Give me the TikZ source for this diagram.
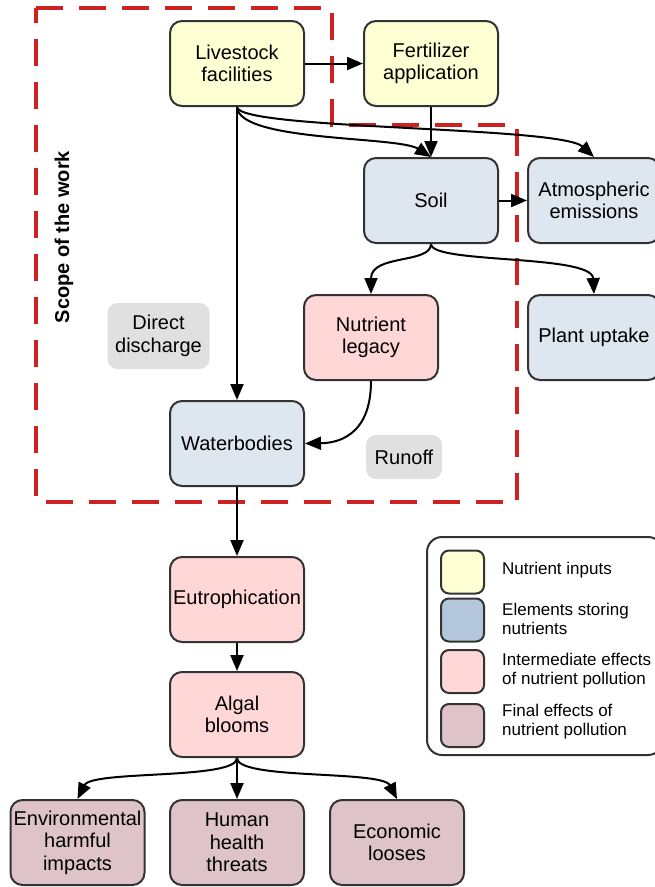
\documentclass[tikz,border=0pt]{standalone}
\usepackage{fontspec}
\setmainfont{Liberation Sans}
\usetikzlibrary{arrows.meta}

\definecolor{inputfill}{HTML}{FFFFD4}
\definecolor{storefill}{HTML}{DEE6F0}
\definecolor{storekey}{HTML}{B3C6DB}
\definecolor{midfill}{HTML}{FFD7D7}
\definecolor{finalfill}{HTML}{DFC3CB}
\definecolor{labelfill}{HTML}{E0E0E0}
\definecolor{scopered}{HTML}{CC2222}
\definecolor{edgegray}{HTML}{333333}

\begin{document}
\begin{tikzpicture}[x=1pt,y=-1pt,
  box/.style={draw=edgegray, line width=2pt, rounded corners=12pt,
    minimum width=134pt, minimum height=85pt, align=center, inner sep=1pt,
    font=\fontsize{20}{22.5}\selectfont},
  inputbox/.style={box, fill=inputfill},
  storebox/.style={box, fill=storefill},
  midbox/.style={box, fill=midfill},
  finalbox/.style={box, fill=finalfill},
  tag/.style={fill=labelfill, rounded corners=10pt, align=center, inner sep=1pt,
    font=\fontsize{20}{22.5}\selectfont},
  keybox/.style={draw=edgegray, line width=2pt, rounded corners=8pt,
    minimum width=43pt, minimum height=43pt, inner sep=0pt},
  keytext/.style={anchor=west, align=left, inner sep=0pt,
    font=\fontsize{17}{19}\selectfont},
  arr/.style={line width=2pt, -{Triangle[length=16pt,width=13pt]}},
  scope/.style={draw=scopered, line width=4pt, dash pattern=on 27pt off 16pt}
]
\useasboundingbox (0,0) rectangle (655,887);
\clip (0,0) rectangle (655,887);

% scope of the work outline
\draw[scope] (36,8) -- (332,8) -- (332,125) -- (517,125) -- (517,502) -- (36,502) -- cycle;
\node[rotate=90, font=\bfseries\fontsize{20}{22}\selectfont] (scopelabel) at (64,237) {Scope of the work};

% flow nodes
\node[inputbox] (live) at (237,63.5) {Livestock\\facilities};
\node[inputbox] (fert) at (431,63.5) {Fertilizer\\application};
\node[storebox] (soil) at (431,200.5) {Soil};
\node[storebox, minimum width=132pt] (atm) at (594,200.5) {Atmospheric\\emissions};
\node[storebox, minimum width=132pt] (plant) at (594,337.5) {Plant uptake};
\node[midbox] (legacy) at (371,337.5) {Nutrient\\legacy};
\node[storebox] (water) at (237,443.5) {Waterbodies};
\node[midbox] (eutro) at (237,599.5) {Eutrophication};
\node[midbox] (algal) at (237,714.5) {Algal\\blooms};
\node[finalbox] (env) at (77.5,842.5) {Environmental\\harmful\\impacts};
\node[finalbox] (human) at (237,842.5) {Human\\health\\threats};
\node[finalbox] (econ) at (397,842.5) {Economic\\looses};

% pathway labels
\node[tag, minimum width=102pt, minimum height=66pt] (direct) at (158.5,336) {Direct\\discharge};
\node[tag, minimum width=76pt, minimum height=44pt] (runoff) at (404,457) {Runoff};

% connectors
\draw[arr] (live.east) -- (fert.west);
\draw[arr] (fert.south) -- (soil.north);
\draw[arr] (live.south) -- (water.north);
\draw[arr] (live.south) .. controls (239,142) and (398,136) .. (soil.north);
\draw[arr] (live.south) .. controls (239,130) and (560,126) .. (atm.north);
\draw[arr] (soil.east) -- (atm.west);
\draw[arr] (soil.south) .. controls (431,264) and (371,254) .. (legacy.north);
\draw[arr] (soil.south) .. controls (431,264) and (592,254) .. (plant.north);
\draw[arr] (legacy.south) .. controls (371,438) and (335,443) .. (water.east);
\draw[arr] (water.south) -- (eutro.north);
\draw[arr] (eutro.south) -- (algal.north);
\draw[arr] (algal.south) .. controls (237,780) and (92,770) .. (env.north);
\draw[arr] (algal.south) -- (human.north);
\draw[arr] (algal.south) .. controls (237,780) and (382,770) .. (econ.north);

% legend
\node[draw=edgegray, line width=2pt, rounded corners=15pt, minimum width=236pt,
  minimum height=218pt, inner sep=0pt] (legend) at (545,646) {};
\node[keybox, fill=inputfill] (k1) at (462.5,572) {};
\node[keybox, fill=storekey] (k2) at (462.5,620) {};
\node[keybox, fill=midfill] (k3) at (462.5,671.5) {};
\node[keybox, fill=finalfill] (k4) at (462.5,725.5) {};
\node[keytext] (t1) at (502,570) {Nutrient inputs};
\node[keytext] (t2) at (502,619) {Elements storing\\nutrients};
\node[keytext] (t3) at (502,671) {Intermediate effects\\of nutrient pollution};
\node[keytext] (t4) at (502,722) {Final effects of\\nutrient pollution};
\end{tikzpicture}
\end{document}
